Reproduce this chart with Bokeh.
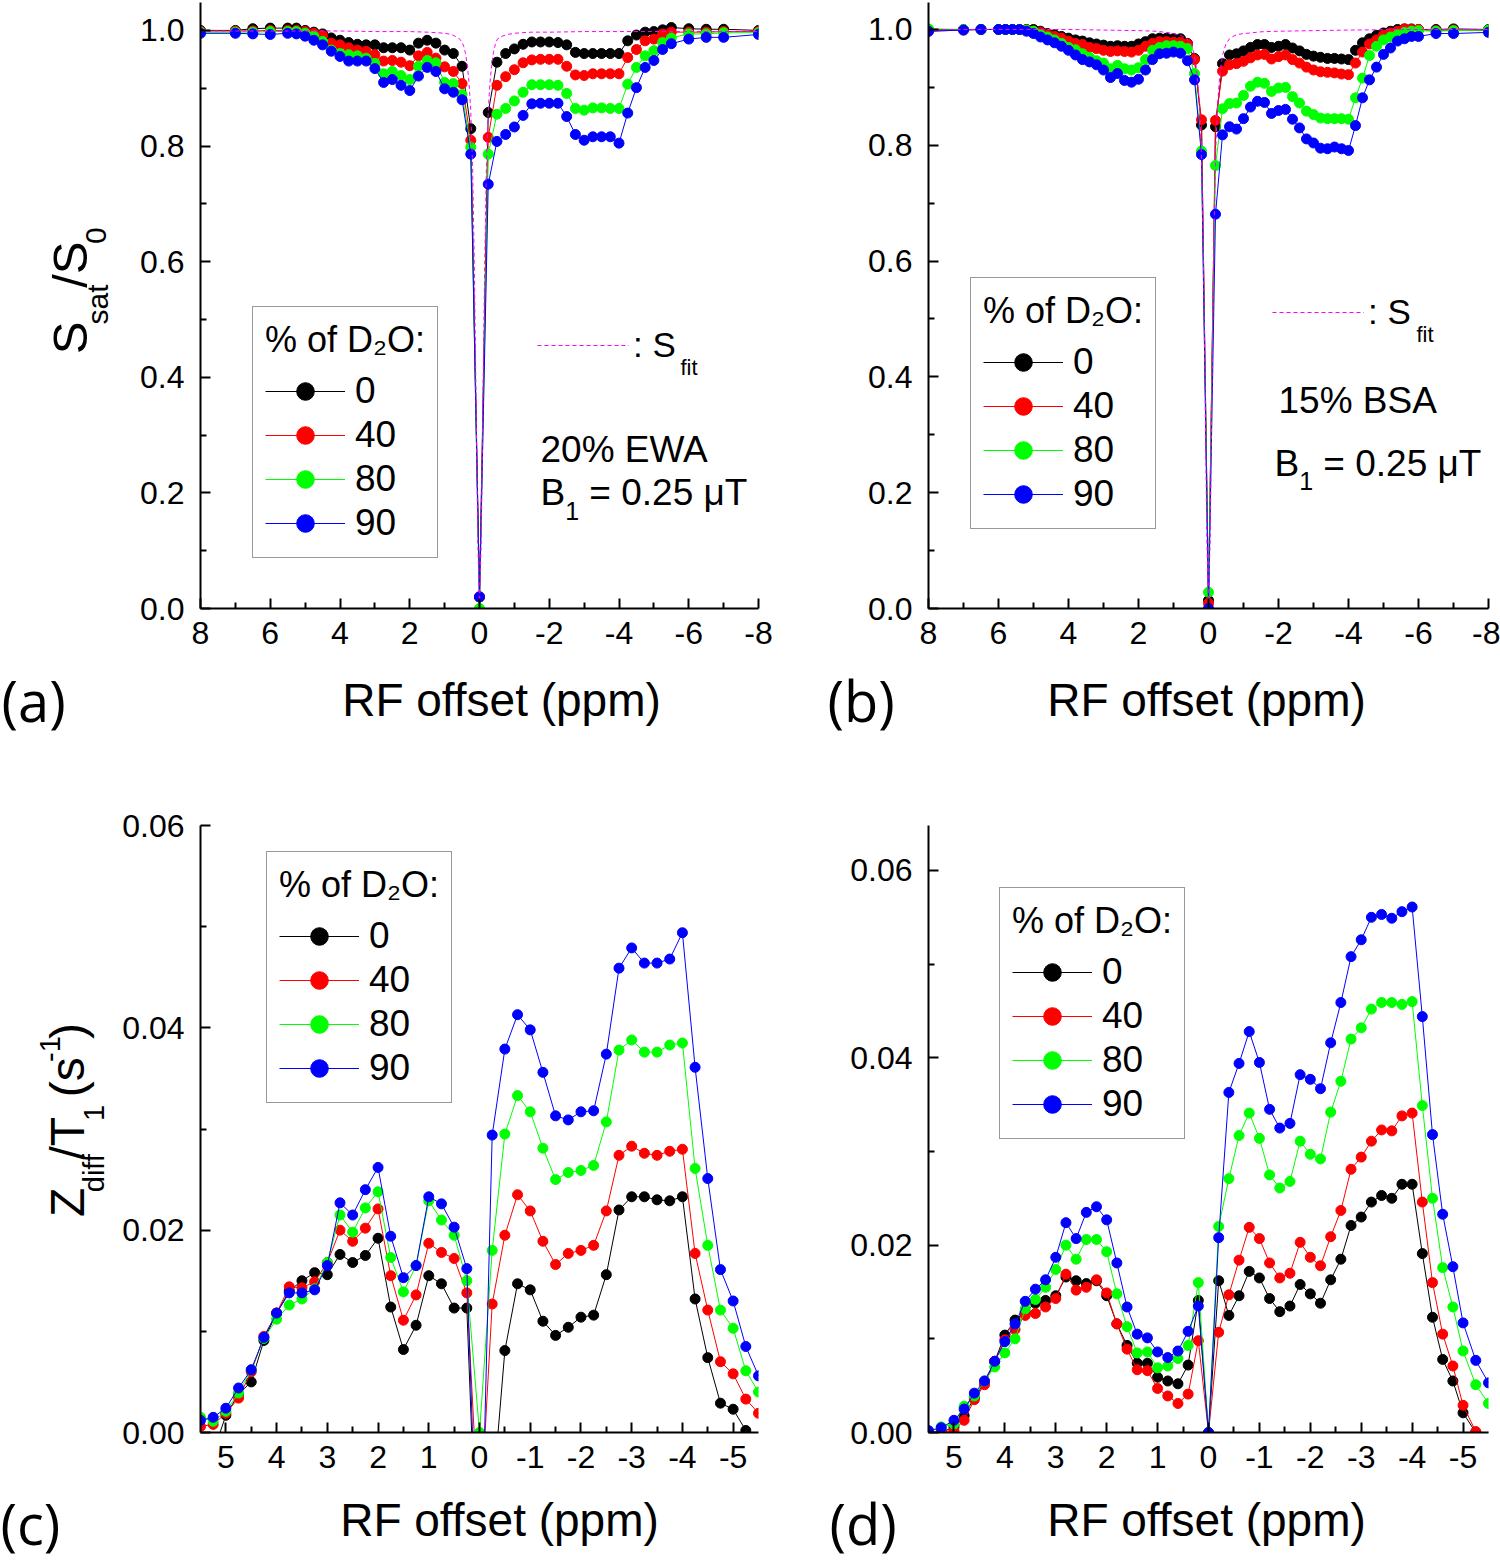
import math
from bokeh.plotting import figure
from bokeh.models import Range1d, FixedTicker, PrintfTickFormatter, Label, Legend, LegendItem
from bokeh.layouts import row, column
from bokeh.embed import file_html
from bokeh.resources import INLINE

# ---------------- data ----------------
series_names = ["0", "40", "80", "90"]
series_colors = ["#000000", "#FF0000", "#00FF00", "#0000FF"]

# panel (a): 20% EWA, S_sat/S_0
x_a = [8, 7, 6.5, 6, 5.5, 5.25, 5, 4.75, 4.5, 4.25, 4, 3.75, 3.5, 3.25, 3, 2.75, 2.5, 2.25, 2, 1.75,
       1.5, 1.25, 1, 0.75, 0.5, 0.25, 0, -0.25, -0.5, -0.75, -1, -1.25, -1.5, -1.75, -2, -2.25, -2.5,
       -2.75, -3, -3.25, -3.5, -3.75, -4, -4.25, -4.5, -4.75, -5, -5.25, -5.5, -6, -6.5, -7, -8]
a_d2o_0 = [1.000, 1.000, 1.003, 1.004, 1.004, 1.004, 1.000, 0.997, 0.994, 0.987, 0.983, 0.979, 0.976, 0.975,
           0.975, 0.970, 0.970, 0.970, 0.966, 0.978, 0.983, 0.978, 0.966, 0.960, 0.938, 0.830, 0.020, 0.858,
           0.945, 0.960, 0.968, 0.976, 0.980, 0.980, 0.980, 0.979, 0.975, 0.962, 0.960, 0.960, 0.960, 0.960,
           0.960, 0.982, 0.992, 0.997, 0.998, 1.001, 1.005, 1.003, 1.002, 1.002, 1.000]
a_d2o_40 = [0.999, 0.999, 0.999, 1.000, 1.000, 1.000, 0.998, 0.995, 0.991, 0.978, 0.975, 0.970, 0.966, 0.964,
            0.958, 0.947, 0.948, 0.945, 0.939, 0.956, 0.962, 0.952, 0.937, 0.929, 0.908, 0.810, 0.020, 0.815,
            0.905, 0.920, 0.932, 0.944, 0.949, 0.950, 0.950, 0.950, 0.938, 0.923, 0.922, 0.925, 0.925, 0.925,
            0.925, 0.953, 0.967, 0.982, 0.985, 0.994, 0.997, 0.997, 0.997, 0.998, 0.998]
a_d2o_80 = [0.997, 0.997, 0.997, 0.998, 0.998, 0.998, 0.995, 0.990, 0.981, 0.966, 0.960, 0.958, 0.956, 0.952,
            0.943, 0.925, 0.929, 0.922, 0.915, 0.938, 0.948, 0.944, 0.910, 0.908, 0.889, 0.798, 0.000, 0.786,
            0.855, 0.865, 0.878, 0.893, 0.906, 0.906, 0.906, 0.905, 0.891, 0.865, 0.862, 0.866, 0.866, 0.865,
            0.865, 0.907, 0.936, 0.956, 0.965, 0.979, 0.987, 0.994, 0.994, 0.996, 0.996]
a_d2o_90 = [0.995, 0.995, 0.994, 0.993, 0.995, 0.994, 0.990, 0.983, 0.975, 0.964, 0.955, 0.947, 0.947, 0.947,
            0.934, 0.910, 0.915, 0.905, 0.896, 0.921, 0.936, 0.929, 0.899, 0.893, 0.880, 0.786, 0.020, 0.734,
            0.808, 0.820, 0.833, 0.853, 0.873, 0.874, 0.874, 0.874, 0.851, 0.820, 0.810, 0.816, 0.816, 0.816,
            0.805, 0.857, 0.901, 0.936, 0.948, 0.967, 0.977, 0.985, 0.988, 0.988, 0.993]

# fitted curves S_fit (panels a and b)
fit_x = [8, 6, 4, 3, 2, 1.5, 1.2, 1.0, 0.8, 0.7, 0.6, 0.5, 0.45, 0.4, 0.35, 0.3, 0.25, 0.2, 0.15, 0.1,
         0.05, 0, -0.05, -0.1, -0.15, -0.2, -0.25, -0.3, -0.35, -0.4, -0.45, -0.5, -0.6, -0.7, -0.8, -1.0,
         -1.2, -1.5, -2, -3, -4, -6, -8]
fit_a = [0.999, 0.999, 0.999, 0.998, 0.998, 0.997, 0.996, 0.995, 0.993, 0.990, 0.987, 0.980, 0.972, 0.960,
         0.940, 0.910, 0.860, 0.770, 0.600, 0.370, 0.120, 0.000, 0.120, 0.370, 0.600, 0.770, 0.860, 0.910,
         0.940, 0.962, 0.975, 0.984, 0.989, 0.991, 0.993, 0.995, 0.996, 0.997, 0.997, 0.998, 0.998, 0.998, 0.998]
fit_b = [1.000, 1.000, 1.000, 0.999, 0.998, 0.997, 0.995, 0.993, 0.990, 0.987, 0.983, 0.975, 0.968, 0.955,
         0.935, 0.905, 0.860, 0.780, 0.620, 0.390, 0.130, 0.000, 0.130, 0.390, 0.620, 0.780, 0.860, 0.905,
         0.935, 0.955, 0.966, 0.975, 0.984, 0.988, 0.991, 0.993, 0.994, 0.996, 0.997, 0.998, 0.999, 1.000, 1.000]

# panel (b): 15% BSA, S_sat/S_0
x_b = [8, 7, 6.5, 6.0, 5.8, 5.6, 5.4, 5.2, 5.0, 4.8, 4.6, 4.4, 4.2, 4.0, 3.8, 3.6, 3.4, 3.2, 3.0, 2.8, 2.6,
       2.4, 2.2, 2.0, 1.8, 1.6, 1.4, 1.2, 1.0, 0.8, 0.6, 0.4, 0.2, 0.0, -0.2, -0.4, -0.6, -0.8, -1.0, -1.2,
       -1.4, -1.6, -1.8, -2.0, -2.2, -2.4, -2.6, -2.8, -3.0, -3.2, -3.4, -3.6, -3.8, -4.0, -4.2, -4.4, -4.6,
       -4.8, -5.0, -5.2, -5.4, -5.6, -5.8, -6.0, -6.5, -7, -8]
b_d2o_0 = [1.000, 1.000, 1.000,
           1.000, 1.000, 1.000, 1.000, 1.000, 1.000,
           0.997, 0.993, 0.991, 0.988, 0.985, 0.982, 0.980, 0.977, 0.975, 0.973, 0.971, 0.972, 0.971, 0.971,
           0.975, 0.979, 0.984, 0.985, 0.985, 0.984, 0.984, 0.976, 0.950, 0.835,
           0.014,
           0.832, 0.941, 0.956, 0.958, 0.963, 0.969, 0.974, 0.974, 0.969, 0.971, 0.974, 0.968, 0.963, 0.957,
           0.954, 0.952, 0.950, 0.950, 0.949, 0.948, 0.964, 0.977, 0.984, 0.990, 0.994, 0.997, 1.000, 1.001,
           1.001, 1.000,
           1.000, 1.001, 1.000]
b_d2o_40 = [0.997, 0.999, 1.000,
            1.000, 1.000, 1.000, 1.000, 0.999, 0.997,
            0.995, 0.991, 0.988, 0.985, 0.980, 0.976, 0.974, 0.969, 0.967, 0.964, 0.962, 0.963, 0.962, 0.961,
            0.964, 0.971, 0.976, 0.979, 0.979, 0.978, 0.978, 0.975, 0.948, 0.844,
            0.009,
            0.843, 0.928, 0.939, 0.941, 0.945, 0.951, 0.956, 0.957, 0.949, 0.953, 0.956, 0.948, 0.942, 0.935,
            0.930, 0.927, 0.926, 0.925, 0.923, 0.922, 0.942, 0.961, 0.975, 0.982, 0.990, 0.994, 0.997, 1.001,
            1.000, 1.000,
            0.998, 0.999, 0.998]
b_d2o_80 = [1.001, 1.000, 1.000,
            1.000, 1.000, 1.000, 1.000, 0.999, 0.997,
            0.991, 0.987, 0.982, 0.976, 0.969, 0.965, 0.958, 0.952, 0.946, 0.942, 0.932, 0.938, 0.932, 0.930,
            0.934, 0.948, 0.964, 0.969, 0.972, 0.972, 0.971, 0.967, 0.924, 0.790,
            0.028,
            0.765, 0.863, 0.872, 0.873, 0.886, 0.902, 0.909, 0.907, 0.893, 0.899, 0.900, 0.884, 0.873, 0.859,
            0.853, 0.847, 0.846, 0.846, 0.846, 0.845, 0.882, 0.916, 0.955, 0.971, 0.982, 0.987, 0.991, 0.995,
            0.997, 0.998,
            0.997, 0.998, 0.999]
b_d2o_90 = [0.997, 0.999, 1.000,
            1.000, 1.000, 1.000, 1.000, 0.997, 0.993,
            0.987, 0.982, 0.977, 0.971, 0.964, 0.956, 0.948, 0.944, 0.939, 0.930, 0.917, 0.924, 0.912, 0.909,
            0.914, 0.930, 0.948, 0.958, 0.959, 0.961, 0.959, 0.946, 0.913, 0.784,
            0.000,
            0.681, 0.818, 0.832, 0.828, 0.846, 0.866, 0.876, 0.874, 0.855, 0.860, 0.862, 0.845, 0.830, 0.811,
            0.804, 0.795, 0.794, 0.797, 0.794, 0.791, 0.834, 0.882, 0.913, 0.935, 0.957, 0.968, 0.980, 0.984,
            0.988, 0.988,
            0.993, 0.993, 0.995]

# panel (c): Z_diff/T_1, 20% EWA
x_c = [5.5, 5.25, 5.0, 4.75, 4.5, 4.25, 4.0, 3.75, 3.5, 3.25, 3.0, 2.75, 2.5, 2.25, 2.0, 1.75, 1.5, 1.25,
       1.0, 0.75, 0.5, 0.25, 0.0, -0.25, -0.5, -0.75, -1.0, -1.25, -1.5, -1.75, -2.0, -2.25, -2.5, -2.75,
       -3.0, -3.25, -3.5, -3.75, -4.0, -4.25, -4.5, -4.75, -5.0, -5.25, -5.5]
c_d2o_0 = [-0.003, -0.002, 0.0017, 0.0038, 0.0050, 0.0091, 0.0118, 0.0140, 0.0150, 0.0158,
           0.0156, 0.0176, 0.0168, 0.0175, 0.0192, 0.0124, 0.0082, 0.0106, 0.0155, 0.0147,
           0.0123, 0.0123, -0.020, -0.007, 0.0081, 0.0147, 0.0141, 0.0110, 0.0096, 0.0104,
           0.0114, 0.0116, 0.0156, 0.0220, 0.0233, 0.0233, 0.0230, 0.0229, 0.0233, 0.0132,
           0.0074, 0.0029, 0.0023, 0.0002, -0.002]
c_d2o_40 = [0.0006, 0.0008, 0.0019, 0.0034, 0.0060, 0.0095, 0.0118, 0.0144, 0.0143, 0.0149,
            0.0168, 0.0200, 0.0189, 0.0202, 0.0221, 0.0155, 0.0111, 0.0136, 0.0187, 0.0178,
            0.0172, 0.0138, -0.010, 0.0127, 0.0195, 0.0235, 0.0219, 0.0189, 0.0166, 0.0177,
            0.0180, 0.0185, 0.0219, 0.0274, 0.0283, 0.0276, 0.0274, 0.0278, 0.0280, 0.0177,
            0.0121, 0.0070, 0.0058, 0.0033, 0.0019]
c_d2o_80 = [0.0015, 0.0011, 0.0021, 0.0039, 0.0062, 0.0093, 0.0112, 0.0126, 0.0132, 0.0142,
            0.0168, 0.0215, 0.0198, 0.0222, 0.0238, 0.0173, 0.0139, 0.0165, 0.0229, 0.0210,
            0.0195, 0.0150, 0.0000, 0.0180, 0.0295, 0.0333, 0.0317, 0.0281, 0.0250, 0.0257,
            0.0259, 0.0264, 0.0307, 0.0378, 0.0388, 0.0376, 0.0376, 0.0383, 0.0385, 0.0261,
            0.0185, 0.0121, 0.0103, 0.0061, 0.0040]
c_d2o_90 = [0.0012, 0.0015, 0.0024, 0.0044, 0.0062, 0.0094, 0.0118, 0.0138, 0.0138, 0.0141,
            0.0165, 0.0227, 0.0215, 0.0240, 0.0262, 0.0194, 0.0153, 0.0165, 0.0233, 0.0226,
            0.0203, 0.0162, -0.020, 0.0294, 0.0379, 0.0413, 0.0398, 0.0356, 0.0313, 0.0309,
            0.0317, 0.0318, 0.0374, 0.0459, 0.0479, 0.0464, 0.0464, 0.0468, 0.0494, 0.0361,
            0.0251, 0.0161, 0.0130, 0.0085, 0.0056]

# panel (d): Z_diff/T_1, 15% BSA
x_d = [5.5, 5.25, 5.0, 4.8, 4.6, 4.4, 4.2, 4.0, 3.8, 3.6, 3.4, 3.2, 3.0, 2.8, 2.6, 2.4, 2.2, 2.0, 1.8, 1.6,
       1.4, 1.2, 1.0, 0.8, 0.6, 0.4, 0.2, 0.0, -0.2, -0.4, -0.6, -0.8, -1.0, -1.2, -1.4, -1.6, -1.8, -2.0,
       -2.2, -2.4, -2.6, -2.8, -3.0, -3.2, -3.4, -3.6, -3.8, -4.0, -4.2, -4.4, -4.6, -4.8, -5.0, -5.25, -5.5]
d_d2o_0 = [0.0, 0.0,
           0.0006, 0.0018, 0.0037, 0.0053, 0.0076, 0.0104, 0.0120, 0.0129, 0.0138, 0.0141,
           0.0146, 0.0166, 0.0162, 0.0159, 0.0162, 0.0146, 0.0116, 0.0093, 0.0074, 0.0074,
           0.0059, 0.0055, 0.0052, 0.0072, 0.0141,
           0.0,
           0.0162, 0.0125, 0.0146, 0.0172, 0.0165, 0.0143, 0.0129, 0.0135, 0.0158, 0.0148,
           0.0138, 0.0163, 0.0185, 0.0221, 0.0230, 0.0246, 0.0253, 0.0250, 0.0265, 0.0265,
           0.0191, 0.0123, 0.0078, 0.0055, 0.0021,
           0.0, -0.001]
d_d2o_40 = [0.0, 0.0001,
            0.0002, 0.0013, 0.0035, 0.0051, 0.0076, 0.0099, 0.0110, 0.0125, 0.0127, 0.0134,
            0.0143, 0.0169, 0.0152, 0.0155, 0.0163, 0.0149, 0.0116, 0.0089, 0.0067, 0.0066,
            0.0047, 0.0039, 0.0031, 0.0041, 0.0098,
            0.0,
            0.0107, 0.0147, 0.0184, 0.0219, 0.0207, 0.0181, 0.0165, 0.0170, 0.0203, 0.0187,
            0.0178, 0.0209, 0.0237, 0.0281, 0.0294, 0.0311, 0.0323, 0.0322, 0.0338, 0.0341,
            0.0246, 0.0160, 0.0105, 0.0071, 0.0029,
            0.0001, -0.0005]
d_d2o_80 = [0.0, 0.0006,
            0.0009, 0.0028, 0.0039, 0.0055, 0.0070, 0.0085, 0.0100, 0.0132, 0.0142, 0.0155,
            0.0174, 0.0200, 0.0185, 0.0206, 0.0206, 0.0193, 0.0148, 0.0113, 0.0085, 0.0086,
            0.0069, 0.0071, 0.0079, 0.0093, 0.0160,
            0.0,
            0.0220, 0.0271, 0.0317, 0.0341, 0.0314, 0.0275, 0.0261, 0.0268, 0.0311, 0.0297,
            0.0292, 0.0342, 0.0375, 0.0420, 0.0432, 0.0452, 0.0459, 0.0459, 0.0457, 0.0460,
            0.0349, 0.0250, 0.0176, 0.0134, 0.0087,
            0.0051, 0.0031]
d_d2o_90 = [0.0002, 0.0005,
            0.0013, 0.0025, 0.0042, 0.0055, 0.0076, 0.0097, 0.0116, 0.0140, 0.0153, 0.0163,
            0.0187, 0.0224, 0.0207, 0.0235, 0.0241, 0.0227, 0.0181, 0.0134, 0.0105, 0.0101,
            0.0086, 0.0080, 0.0087, 0.0108, 0.0135,
            0.0,
            0.0208, 0.0363, 0.0394, 0.0428, 0.0395, 0.0345, 0.0325, 0.0330, 0.0382, 0.0377,
            0.0367, 0.0416, 0.0459, 0.0508, 0.0526, 0.0550, 0.0553, 0.0549, 0.0556, 0.0561,
            0.0444, 0.0318, 0.0233, 0.0177, 0.0117,
            0.0077, 0.0053]

# ticks
ticks_ab_x = [8, 6, 4, 2, 0, -2, -4, -6, -8]
minor_ab_x = [7, 5, 3, 1, -1, -3, -5, -7]
ticks_ab_y = [0.0, 0.2, 0.4, 0.6, 0.8, 1.0]
minor_ab_y = [0.1, 0.3, 0.5, 0.7, 0.9]
ticks_cd_x = [5, 4, 3, 2, 1, 0, -1, -2, -3, -4, -5]
minor_cd_x = [4.5, 3.5, 2.5, 1.5, 0.5, -0.5, -1.5, -2.5, -3.5, -4.5]
ticks_cd_y = [0.0, 0.02, 0.04, 0.06]
minor_cd_y = [0.01, 0.03, 0.05]

# ---------------- styling / layout ----------------
FONT = "Liberation Sans"
LETTER_FONT = "Open Sans"
MID = 0.35   # distance (in em) from the baseline up to the middle of the text box

CHAR_W = {' ': 0.278, '%': 0.889, '(': 0.333, ')': 0.333, '-': 0.333, '.': 0.278, '/': 0.278,
          ':': 0.278, '=': 0.584, 'A': 0.667, 'B': 0.667, 'D': 0.722, 'E': 0.667, 'F': 0.611,
          'O': 0.778, 'R': 0.722, 'S': 0.667, 'T': 0.611, 'W': 0.944, 'Z': 0.611, 'a': 0.556,
          'd': 0.556, 'e': 0.556, 'f': 0.278, 'i': 0.222, 'm': 0.833, 'o': 0.556, 'p': 0.556,
          's': 0.5, 't': 0.278, 'μ': 0.576}


def tw(s, size):
    return sum(CHAR_W.get(ch, 0.556) for ch in s) * size


# page geometry (page pixels, origin top-left) of each plot frame and its data ranges
G_a = dict(left=200, right=758, top=2, bottom=610, x0=8, x1=-8, y0=0.0, y1=1.0483)
G_b = dict(left=928, right=1488, top=2, bottom=608, x0=8, x1=-8, y0=0.0, y1=1.0466)
G_c = dict(left=200, right=758, top=825, bottom=1432, x0=5.5, x1=-5.5, y0=0.0, y1=0.06)
G_d = dict(left=928, right=1488, top=825, bottom=1432, x0=5.5, x1=-5.5, y0=0.0, y1=0.0648)

ROW1_H = 659
STRIP1_H = 770 - ROW1_H
ROW2_H = 706
STRIP2_H = 1563 - 770 - ROW2_H


def to_data(g, px, py):
    if g is None:
        return px, py
    x = g['x0'] + (px - g['left']) / (g['right'] - g['left']) * (g['x1'] - g['x0'])
    y = g['y0'] + (g['bottom'] - py) / (g['bottom'] - g['top']) * (g['y1'] - g['y0'])
    return x, y


def make_fig(g, width, height, bl, br, bt, bb, xt, xm, yt, ym, yfmt):
    p = figure(width=width, height=height,
               x_range=Range1d(g['x0'], g['x1']), y_range=Range1d(g['y0'], g['y1']),
               output_backend="svg", toolbar_location=None,
               min_border_left=bl, min_border_right=br, min_border_top=bt, min_border_bottom=bb)
    p.outline_line_color = None
    p.xgrid.visible = False
    p.ygrid.visible = False
    p.background_fill_color = "white"
    p.border_fill_color = "white"
    for ax in (p.xaxis[0], p.yaxis[0]):
        ax.axis_line_width = 2
        ax.axis_line_color = "black"
        ax.major_tick_line_width = 2
        ax.minor_tick_line_width = 2
        ax.major_tick_in = 10
        ax.major_tick_out = 0
        ax.minor_tick_in = 6
        ax.minor_tick_out = 0
        ax.major_label_text_font = FONT
        ax.major_label_text_font_size = "32px"
        ax.major_label_text_color = "black"
    p.xaxis[0].ticker = FixedTicker(ticks=xt, minor_ticks=xm)
    p.yaxis[0].ticker = FixedTicker(ticks=yt, minor_ticks=ym)
    p.yaxis[0].formatter = PrintfTickFormatter(format=yfmt)
    p.xaxis[0].formatter = PrintfTickFormatter(format="%d")
    p.xaxis[0].major_label_standoff = 13
    p.yaxis[0].major_label_standoff = 16
    return p


def text_fig(x0, y0, w, h):
    # a plain canvas whose data coordinates equal page pixels, used only for texts
    p = figure(width=w, height=h, x_range=Range1d(x0, x0 + w), y_range=Range1d(y0 + h, y0),
               output_backend="svg", toolbar_location=None, min_border=0,
               x_axis_location=None, y_axis_location=None)
    p.outline_line_color = None
    p.xgrid.visible = False
    p.ygrid.visible = False
    p.background_fill_color = "white"
    p.border_fill_color = "white"
    return p


def _label(p, g, qx, qy, text, size, font, align, angle=0.0):
    x, y = to_data(g, qx, qy)
    p.add_layout(Label(x=x, y=y, x_units="data", y_units="data", text=text, angle=angle,
                       text_font=font, text_font_size=f"{size}px", text_align=align,
                       text_baseline="middle", text_color="black"))


def put_text(p, g, px, py, parts, angle=0.0, font=FONT):
    """(px, py): page position where the baseline of the first part starts.
    parts: (text, font size, baseline shift; positive = lowered, e.g. subscript)."""
    cursor = 0.0
    for text, size, shift in parts:
        lead = len(text) - len(text.lstrip(" "))
        cursor += tw(text[:lead], size)
        text = text[lead:]
        w = tw(text, size)
        if angle == 0:
            _label(p, g, px + cursor, py + shift - MID * size, text, size, font, "left")
        else:
            # text reads bottom -> top; anchored at the centre of each part
            _label(p, g, px + shift - MID * size, py - cursor - w / 2, text, size, font, "center", angle)
        cursor += w


def put_single(p, g, px, py, text, size, font=FONT, align="center"):
    _label(p, g, px, py - MID * size, text, size, font, align)


def draw_series(p, x, ys):
    pairs = []
    for y, c in zip(ys, series_colors):
        l = p.line(x, y, line_color=c, line_width=1)
        s = p.scatter(x, y, marker="circle", size=10, fill_color=c, line_color=c)
        pairs.append((l, s))
    return pairs


def add_legend(p, pairs, vx, vy):
    items = [LegendItem(label=n, renderers=[l, s]) for n, (l, s) in zip(series_names, pairs)]
    leg = Legend(items=items, location=(vx, vy), title="% of D\u2082O:",
                 title_text_font=FONT, title_text_font_size="36px", title_text_font_style="normal",
                 title_text_color="black", title_standoff=8,
                 label_text_font=FONT, label_text_font_size="37px", label_text_color="black",
                 label_standoff=10,
                 glyph_width=80, glyph_height=44, label_height=44, spacing=0, padding=12, margin=0,
                 border_line_color="#333333", border_line_width=1.5,
                 background_fill_color="white", background_fill_alpha=1.0)
    p.add_layout(leg)


def add_fit_legend(p, r, vx, vy):
    leg = Legend(items=[LegendItem(label=": S", renderers=[r])], location=(vx, vy),
                 label_text_font=FONT, label_text_font_size="35px", label_text_color="black",
                 label_standoff=4,
                 glyph_width=92, glyph_height=42, label_height=42, spacing=0, padding=0, margin=0,
                 border_line_color=None, background_fill_alpha=0.0)
    p.add_layout(leg)


# ---------- row 1: panels (a) and (b) ----------
ta = text_fig(0, 0, 112, ROW1_H)
put_text(ta, None, 87, 381, [("S", 49, 0), ("sat", 30, 20), ("/S", 49, 0), ("0", 30, 19)], angle=math.pi / 2)

fa = make_fig(G_a, 688, ROW1_H, 88, 42, 2, ROW1_H - 610, ticks_ab_x, minor_ab_x, ticks_ab_y, minor_ab_y, "%.1f")
pairs_a = draw_series(fa, x_a, [a_d2o_0, a_d2o_40, a_d2o_80, a_d2o_90])
fit_r_a = fa.line(fit_x, fit_a, line_color="#FF00FF", line_width=1, line_dash="4 3")
add_legend(fa, pairs_a, 52, 50)
add_fit_legend(fa, fit_r_a, 337, 242)
put_text(fa, G_a, 680, 376, [("fit", 22, 0)])
put_text(fa, G_a, 540, 463, [("20% EWA", 37, 0)])
put_text(fa, G_a, 540, 507, [("B", 37, 0), ("1", 25, 14), (" = 0.25 μT", 37, 0)])

fb = make_fig(G_b, 700, ROW1_H, 128, 12, 2, ROW1_H - 608, ticks_ab_x, minor_ab_x, ticks_ab_y, minor_ab_y, "%.1f")
pairs_b = draw_series(fb, x_b, [b_d2o_0, b_d2o_40, b_d2o_80, b_d2o_90])
fit_r_b = fb.line(fit_x, fit_b, line_color="#FF00FF", line_width=1, line_dash="4 3")
add_legend(fb, pairs_b, 42, 79)
add_fit_legend(fb, fit_r_b, 344, 275)
put_text(fb, G_b, 1416, 342, [("fit", 22, 0)])
put_text(fb, G_b, 1278, 413, [("15% BSA", 37, 0)])
put_text(fb, G_b, 1274, 476, [("B", 37, 0), ("1", 25, 13), (" = 0.25 μT", 37, 0)])

# ---------- strip 1: x titles and panel letters of (a), (b) ----------
s1 = text_fig(0, ROW1_H, 1500, STRIP1_H)
put_single(s1, None, 1, 719, "(a)", 56, font=LETTER_FONT, align="left")
put_single(s1, None, 501, 716, "RF offset (ppm)", 46)
put_single(s1, None, 827, 719, "(b)", 56, font=LETTER_FONT, align="left")
put_single(s1, None, 1206, 716, "RF offset (ppm)", 46)

# ---------- row 2: panels (c) and (d) ----------
tc = text_fig(0, 770, 112, ROW2_H)
put_text(tc, None, 84, 1223, [("Z", 48, 0), ("diff", 29, 20), ("/T", 48, 0), ("1", 29, 20),
                              (" (s", 48, 0), ("-1", 29, -24), (")", 48, 0)], angle=math.pi / 2)

fc = make_fig(G_c, 688, ROW2_H, 88, 42, 55, ROW2_H - 55 - 607, ticks_cd_x, minor_cd_x, ticks_cd_y, minor_cd_y, "%.2f")
pairs_c = draw_series(fc, x_c, [c_d2o_0, c_d2o_40, c_d2o_80, c_d2o_90])
add_legend(fc, pairs_c, 66, 329)

fd = make_fig(G_d, 700, ROW2_H, 128, 12, 55, ROW2_H - 55 - 607, ticks_cd_x, minor_cd_x, ticks_cd_y, minor_cd_y, "%.2f")
pairs_d = draw_series(fd, x_d, [d_d2o_0, d_d2o_40, d_d2o_80, d_d2o_90])
add_legend(fd, pairs_d, 71, 293)

# ---------- strip 2: x titles and panel letters of (c), (d) ----------
s2 = text_fig(0, 770 + ROW2_H, 1500, STRIP2_H)
put_single(s2, None, 0, 1542, "(c)", 56, font=LETTER_FONT, align="left")
put_single(s2, None, 499, 1536, "RF offset (ppm)", 46)
put_single(s2, None, 829, 1542, "(d)", 56, font=LETTER_FONT, align="left")
put_single(s2, None, 1206, 1536, "RF offset (ppm)", 46)

layout = column(row(ta, fa, fb), s1, row(tc, fc, fd), s2)
open("out.html", "w").write(file_html(layout, INLINE))
